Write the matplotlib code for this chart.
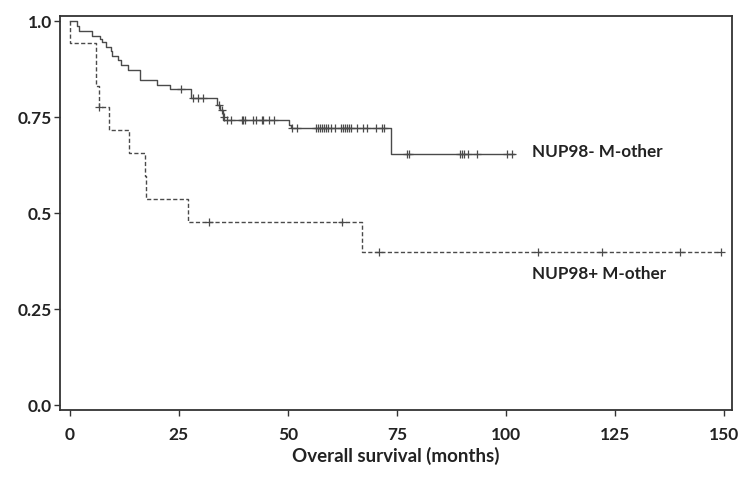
import matplotlib
matplotlib.use("Agg")
import matplotlib.pyplot as plt

# Fonte parecida com Calibri
plt.rcParams["font.family"] = ["Lato", "DejaVu Sans"]

# NUP98- M-other (linha continua): tempos dos degraus e sobrevida depois de cada degrau
neg_times = [0, 1.6, 2.2, 5.1, 7.0, 7.4, 8.4, 9.4, 9.7, 11.1, 11.8, 13.3, 16.2,
             20.0, 23.1, 27.8, 33.7, 34.5, 35.2, 50.2, 50.7, 73.6, 101.9]
neg_surv = [1.0, 0.987, 0.974, 0.962, 0.953, 0.946, 0.933, 0.923, 0.909, 0.900, 0.887,
            0.874, 0.847, 0.835, 0.824, 0.800, 0.783, 0.770, 0.742, 0.731, 0.722,
            0.656, 0.656]
neg_cens_t = [25.6, 28.2, 29.5, 30.5, 34.2, 35.0, 35.4,
              36.0, 37.0, 39.5, 39.8, 40.2, 42.1, 42.7, 44.0, 44.3, 45.6, 46.9,
              50.9, 52.0, 56.5, 56.9, 57.4, 57.9, 58.3, 58.8, 59.2, 59.9, 60.8,
              62.2, 62.6, 63.1, 63.5, 64.0, 64.4, 65.8, 67.3, 68.2, 70.2, 71.6, 72.1,
              77.2, 77.7, 89.5, 89.9, 90.4, 91.4, 93.3, 100.2, 101.3]
neg_cens_s = [0.824, 0.800, 0.800, 0.800, 0.783, 0.770, 0.750,
              0.742, 0.742, 0.742, 0.742, 0.742, 0.742, 0.742, 0.742, 0.742, 0.742, 0.742,
              0.722, 0.722, 0.722, 0.722, 0.722, 0.722, 0.722, 0.722, 0.722, 0.722, 0.722,
              0.722, 0.722, 0.722, 0.722, 0.722, 0.722, 0.722, 0.722, 0.722, 0.722, 0.722, 0.722,
              0.656, 0.656, 0.656, 0.656, 0.656, 0.656, 0.656, 0.656, 0.656]

# NUP98+ M-other (linha tracejada)
pos_times = [0, 0.2, 6.0, 6.8, 9.1, 13.7, 17.2, 17.6, 27.2, 67.0, 149.3]
pos_surv = [1.0, 0.944, 0.833, 0.778, 0.718, 0.658, 0.598, 0.538, 0.478, 0.399, 0.399]
pos_cens_t = [6.8, 32.0, 62.4, 71.0, 107.3, 121.9, 139.9, 149.3]
pos_cens_s = [0.778, 0.478, 0.478, 0.399, 0.399, 0.399, 0.399, 0.399]

x_ticks = [0, 25, 50, 75, 100, 125, 150]
y_ticks = [0.0, 0.25, 0.5, 0.75, 1.0]
y_labels = ["0.0", "0.25", "0.5", "0.75", "1.0"]

cor = "#4a4a4a"

fig = plt.figure(figsize=(7.41, 4.78), dpi=100)
ax = fig.add_axes([0.081, 0.1423, 0.9069, 0.8249])

# Curvas de Kaplan-Meier
ax.step(neg_times, neg_surv, where="post", color=cor, lw=1.0)
ax.step(pos_times, pos_surv, where="post", color=cor, lw=1.0, dashes=(3.0, 1.7))

# Censuras
ax.plot(neg_cens_t, neg_cens_s, "+", color=cor, ms=6, mew=0.9)
ax.plot(pos_cens_t, pos_cens_s, "+", color=cor, ms=6, mew=0.9)

# Rotulos das curvas
ax.text(105.9, 0.661, "NUP98- M-other", fontsize=12.3, fontweight="bold",
        color="#222222", ha="left", va="center")
ax.text(105.9, 0.341, "NUP98+ M-other", fontsize=12.3, fontweight="bold",
        color="#222222", ha="left", va="center")

ax.set_xlim(-2.2, 151.8)
ax.set_ylim(-0.012, 1.015)
ax.set_xticks(x_ticks)
ax.set_yticks(y_ticks)
ax.set_yticklabels(y_labels)
ax.tick_params(axis="both", direction="out", length=4, width=1, color="#333333",
               labelsize=12.5, labelcolor="#222222")
ax.tick_params(axis="x", pad=8)
ax.tick_params(axis="y", pad=2)
for lbl in ax.get_xticklabels() + ax.get_yticklabels():
    lbl.set_fontweight("bold")

for s in ax.spines.values():
    s.set_color("#333333")
    s.set_linewidth(1.3)

ax.set_xlabel("Overall survival (months)", fontsize=13.5, fontweight="bold",
              color="#222222", labelpad=3)

fig.savefig("out.png", dpi=100)
